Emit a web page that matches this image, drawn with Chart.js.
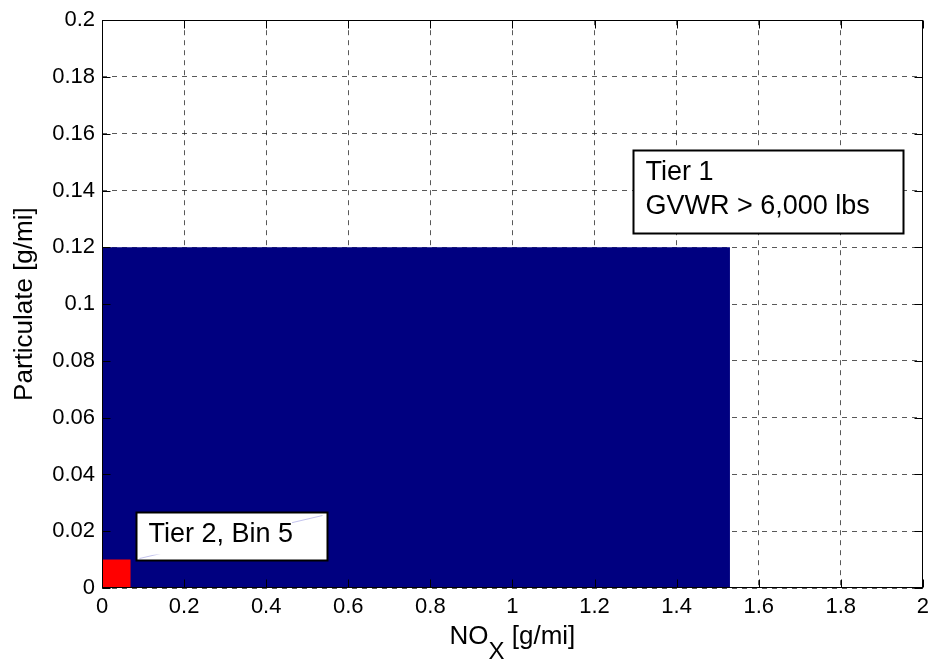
<!DOCTYPE html>
<html>
<head>
<meta charset="utf-8">
<script src="https://cdn.jsdelivr.net/npm/chart.js@4"></script>
<style>
  body { margin: 0; background: #fff; }
  canvas { display: block; }
</style>
</head>
<body>
<canvas id="emissionsChart" width="935" height="660"></canvas>
<script>
// Emission limit regions: NOx vs particulate
const limitNames = ["Tier 1", "Tier 2, Bin 5"];
const noxLimits = [1.53, 0.07];
const pmLimits = [0.12, 0.01];
const limitColors = ["#000080", "#ff0000"];

const xTicks = [0, 0.2, 0.4, 0.6, 0.8, 1, 1.2, 1.4, 1.6, 1.8, 2];
const xTickLabels = ["0", "0.2", "0.4", "0.6", "0.8", "1", "1.2", "1.4", "1.6", "1.8", "2"];
const yTicks = [0, 0.02, 0.04, 0.06, 0.08, 0.1, 0.12, 0.14, 0.16, 0.18, 0.2];
const yTickLabels = ["0", "0.02", "0.04", "0.06", "0.08", "0.1", "0.12", "0.14", "0.16", "0.18", "0.2"];

const FONT = "Arial, 'Liberation Sans', sans-serif";

// each region is a flat line at its PM limit filled down to zero
// (smaller region first so it ends up on top)
const datasets = [1, 0].map(i => ({
  label: limitNames[i],
  data: [{ x: 0, y: pmLimits[i] }, { x: noxLimits[i], y: pmLimits[i] }],
  borderWidth: 0,
  borderColor: limitColors[i],
  backgroundColor: limitColors[i],
  pointRadius: 0,
  fill: "origin",
  tension: 0
}));

const boxAndLabels = {
  id: "boxAndLabels",
  afterDatasetsDraw(chart) {
    const { ctx, scales: { x, y } } = chart;

    function textBox(x0, y0, x1, y1, lines, slash) {
      const l = Math.round(x.getPixelForValue(x0)) + 0.5;
      const r = Math.round(x.getPixelForValue(x1)) + 0.5;
      const t = Math.round(y.getPixelForValue(y1)) + 0.5;
      const b = Math.round(y.getPixelForValue(y0)) + 0.5;
      ctx.save();
      ctx.fillStyle = "#fff";
      ctx.fillRect(l, t, r - l, b - t);
      ctx.font = "27px " + FONT;
      ctx.textBaseline = "middle";
      ctx.textAlign = "left";
      if (slash) {
        // faint leader line running corner to corner behind the text
        ctx.strokeStyle = "#c4c4ee";
        ctx.lineWidth = 1;
        ctx.beginPath();
        ctx.moveTo(l + 3, b - 2);
        ctx.lineTo(r - 5, t + 3);
        ctx.stroke();
        const w = ctx.measureText(lines[0]).width;
        ctx.fillStyle = "#fff";
        ctx.fillRect(l + 11, t + 7, w, b - t - 13);
      }
      ctx.fillStyle = "#000";
      lines.forEach((s, k) => ctx.fillText(s, l + 12, t + 22 + k * 34));
      ctx.strokeStyle = "#000";
      ctx.lineWidth = 2;
      ctx.strokeRect(l, t, r - l, b - t);
      ctx.restore();
    }

    textBox(1.293, 0.125, 1.951, 0.1543, ["Tier 1", "GVWR > 6,000 lbs"], false);
    textBox(0.083, 0.0098, 0.548, 0.0269, ["Tier 2, Bin 5"], true);
  },
  afterDraw(chart) {
    const { ctx, chartArea: a, scales: { x, y } } = chart;
    ctx.save();
    ctx.strokeStyle = "#000";
    ctx.lineWidth = 1;
    const L = Math.round(a.left) + 0.5, R = Math.round(a.right) - 0.5;
    const T = Math.round(a.top) + 0.5, B = Math.round(a.bottom) - 0.5;
    ctx.strokeRect(L, T, R - L, B - T);

    // inward tick marks on all four sides
    const tl = 8;
    ctx.beginPath();
    xTicks.forEach(v => {
      const px = Math.round(x.getPixelForValue(v)) + 0.5;
      ctx.moveTo(px, B); ctx.lineTo(px, B - tl);
      ctx.moveTo(px, T); ctx.lineTo(px, T + tl);
    });
    yTicks.forEach(v => {
      const py = Math.round(y.getPixelForValue(v)) + 0.5;
      ctx.moveTo(L, py); ctx.lineTo(L + tl, py);
      ctx.moveTo(R, py); ctx.lineTo(R - tl, py);
    });
    ctx.stroke();

    // x axis title with subscript
    const big = "26px " + FONT, small = "24px " + FONT;
    ctx.fillStyle = "#000";
    ctx.textBaseline = "alphabetic";
    ctx.textAlign = "left";
    ctx.font = big;
    const w1 = ctx.measureText("NO").width;
    const w3 = ctx.measureText(" [g/mi]").width;
    ctx.font = small;
    const w2 = ctx.measureText("X").width;
    let cx = (a.left + a.right) / 2 - (w1 + w2 + w3) / 2;
    ctx.font = big;
    ctx.fillText("NO", cx, 644);
    ctx.font = small;
    ctx.fillText("X", cx + w1, 659);
    ctx.font = big;
    ctx.fillText(" [g/mi]", cx + w1 + w2, 644);
    ctx.restore();
  }
};

new Chart(document.getElementById("emissionsChart"), {
  type: "line",
  data: { datasets: datasets },
  options: {
    responsive: false,
    animation: false,
    layout: { padding: { top: 15, right: 12, left: 0, bottom: 0 } },
    scales: {
      x: {
        type: "linear",
        min: 0,
        max: 2,
        afterBuildTicks: s => { s.ticks = xTicks.map(v => ({ value: v })); },
        afterFit: s => { s.height = 72; },
        ticks: {
          callback: (v, i) => xTickLabels[i],
          color: "#000",
          font: { family: FONT, size: 22 },
          padding: 6,
          maxRotation: 0,
          autoSkip: false
        },
        grid: { color: "rgba(0,0,0,0.65)", lineWidth: 1, drawTicks: false },
        border: { display: false, dash: [5, 5] }
      },
      y: {
        type: "linear",
        min: 0,
        max: 0.2,
        afterBuildTicks: s => { s.ticks = yTicks.map(v => ({ value: v })); },
        afterFit: s => { s.width = 102; },
        ticks: {
          callback: (v, i) => yTickLabels[i],
          color: "#000",
          font: { family: FONT, size: 22 },
          padding: 7,
          autoSkip: false
        },
        grid: { color: "rgba(0,0,0,0.65)", lineWidth: 1, drawTicks: false },
        border: { display: false, dash: [5, 5] },
        title: {
          display: true,
          text: "Particulate [g/mi]",
          color: "#000",
          font: { family: FONT, size: 26 },
          padding: { top: 9, bottom: 0 }
        }
      }
    },
    plugins: {
      legend: { display: false },
      tooltip: { enabled: false }
    }
  },
  plugins: [boxAndLabels]
});
</script>
</body>
</html>
